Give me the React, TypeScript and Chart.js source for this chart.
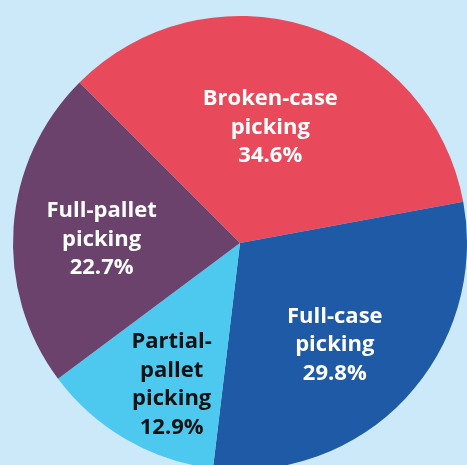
import React, { useEffect, useRef } from "react";
import { Chart, registerables } from "chart.js";

Chart.register(...registerables);

const categories = [
  ["Broken-case", "picking"],
  ["Full-case", "picking"],
  ["Partial-", "pallet", "picking"],
  ["Full-pallet", "picking"],
];
const shares = [34.6, 29.8, 12.9, 22.7];
const shareLabels = ["34.6%", "29.8%", "12.9%", "22.7%"];

const sliceColors = ["#e84a5b", "#1f5aa6", "#4dc9f0", "#6b426c"];
const textColors = ["#ffffff", "#ffffff", "#111111", "#ffffff"];
// label placement: radial distance (fraction of radius) and angle tweak (deg)
const labelRadius = [0.53, 0.61, 0.69, 0.61];
const labelAngleTweak = [-2.7, 3.6, -4.2, -2.2];

const BG = "#cce9f9";

const labelPlugin = {
  id: "sliceLabels",
  afterDatasetsDraw(chart: any) {
    const ctx = chart.ctx;
    const meta = chart.getDatasetMeta(0);
    ctx.save();
    ctx.font = "bold 22px 'Open Sans', 'Noto Sans', sans-serif";
    ctx.textAlign = "center";
    ctx.textBaseline = "middle";
    const lineH = 28.5;
    meta.data.forEach((arc: any, i: number) => {
      const { x, y, startAngle, endAngle, outerRadius } = arc.getProps(
        ["x", "y", "startAngle", "endAngle", "outerRadius"],
        true
      );
      const mid = (startAngle + endAngle) / 2 + (labelAngleTweak[i] * Math.PI) / 180;
      const r = outerRadius * labelRadius[i];
      const cx = x + Math.cos(mid) * r;
      const cy = y + Math.sin(mid) * r + 1;
      const lines = [...categories[i], shareLabels[i]];
      const top = cy - ((lines.length - 1) * lineH) / 2;
      ctx.fillStyle = textColors[i];
      lines.forEach((t, k) => ctx.fillText(t, cx, top + k * lineH));
    });
    ctx.restore();
  },
};

export default function App() {
  const ref = useRef<HTMLCanvasElement | null>(null);
  useEffect(() => {
    if (!ref.current) return;
    const chart = new Chart(ref.current, {
      type: "pie",
      data: {
        labels: categories.map((c) => c.join(" ")),
        datasets: [
          {
            data: shares,
            backgroundColor: sliceColors,
            borderWidth: 0,
            radius: 227,
            clip: false,
          } as any,
        ],
      },
      options: {
        animation: false,
        responsive: false,
        rotation: -45,
        layout: { padding: { left: 13, top: 21, right: 0, bottom: 0 } },
        plugins: {
          legend: { display: false },
          tooltip: { enabled: false },
        },
      },
      plugins: [labelPlugin],
    });
    return () => chart.destroy();
  }, []);
  return (
    <div
      style={{
        position: "fixed",
        left: 0,
        top: 0,
        width: 467,
        height: 465,
        background: BG,
        overflow: "hidden",
      }}
    >
      <canvas ref={ref} width={467} height={465} style={{ display: "block" }} />
    </div>
  );
}
